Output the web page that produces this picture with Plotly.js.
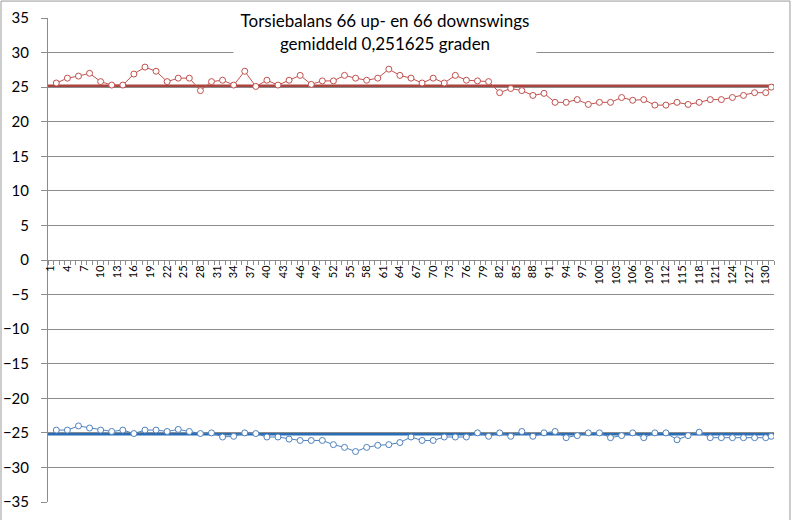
<!DOCTYPE html>
<html>
<head>
<meta charset="utf-8">
<script src="https://cdn.plot.ly/plotly-3.0.1.min.js"></script>
<style>
  html, body { margin: 0; padding: 0; background: white; }
  #chart { width: 792px; height: 520px; }
</style>
</head>
<body>
<div id="chart"></div>
<script>
const swingPos = [2, 4, 6, 8, 10, 12, 14, 16, 18, 20, 22, 24, 26, 28, 30, 32, 34, 36, 38, 40,
  42, 44, 46, 48, 50, 52, 54, 56, 58, 60, 62, 64, 66, 68, 70, 72, 74, 76, 78, 80,
  82, 84, 86, 88, 90, 92, 94, 96, 98, 100, 102, 104, 106, 108, 110, 112, 114, 116, 118, 120,
  122, 124, 126, 128, 130, 131];

const upswings = [25.6, 26.3, 26.6, 27.0, 25.8, 25.3, 25.3, 26.9, 27.9, 27.3,
  25.8, 26.3, 26.3, 24.5, 25.8, 26.0, 25.3, 27.3, 25.1, 26.0,
  25.3, 26.0, 26.7, 25.4, 25.9, 25.9, 26.7, 26.3, 26.0, 26.3,
  27.6, 26.7, 26.3, 25.6, 26.3, 25.6, 26.7, 26.0, 25.9, 25.8,
  24.2, 24.8, 24.5, 23.8, 24.1, 22.8, 22.8, 23.2, 22.5, 22.8,
  22.8, 23.5, 23.1, 23.2, 22.4, 22.4, 22.8, 22.5, 22.8, 23.2,
  23.2, 23.5, 23.8, 24.2, 24.2, 25.0];

const downswings = [-24.6, -24.6, -24.0, -24.3, -24.6, -24.8, -24.6, -25.1, -24.6, -24.6,
  -24.8, -24.5, -24.8, -25.1, -25.0, -25.6, -25.5, -25.0, -25.1, -25.6,
  -25.6, -25.9, -26.1, -26.1, -26.1, -26.7, -27.1, -27.7, -27.1, -26.8,
  -26.7, -26.4, -25.6, -26.1, -26.1, -25.6, -25.6, -25.6, -25.0, -25.5,
  -25.0, -25.5, -24.8, -25.5, -25.0, -24.8, -25.7, -25.4, -25.0, -25.0,
  -25.7, -25.4, -25.0, -25.7, -25.0, -25.0, -26.0, -25.4, -24.9, -25.7,
  -25.7, -25.7, -25.7, -25.7, -25.7, -25.5];

const avgUp = 25.17;
const avgDown = -25.17;

const xTickVals = [1, 4, 7, 10, 13, 16, 19, 22, 25, 28, 31, 34, 37, 40, 43, 46, 49, 52, 55, 58,
  61, 64, 67, 70, 73, 76, 79, 82, 85, 88, 91, 94, 97, 100, 103, 106, 109, 112, 115, 118,
  121, 124, 127, 130];

const titleText = 'Torsiebalans 66 up- en 66 downswings<br>gemiddeld 0,251625 graden';

const gridGrey = '#8c8c8c';

const upTrace = {
  type: 'scatter',
  mode: 'lines+markers',
  x: swingPos,
  y: upswings,
  line: { color: '#c0504d', width: 1 },
  marker: { symbol: 'circle', size: 6, color: 'white', line: { color: '#c0504d', width: 1 } },
  hoverinfo: 'x+y'
};

const downTrace = {
  type: 'scatter',
  mode: 'lines+markers',
  x: swingPos,
  y: downswings,
  line: { color: '#4f81bd', width: 1 },
  marker: { symbol: 'circle', size: 6, color: 'white', line: { color: '#4f81bd', width: 1 } },
  hoverinfo: 'x+y'
};

const layout = {
  width: 792,
  height: 520,
  margin: { l: 48, r: 18, t: 18, b: 18 },
  paper_bgcolor: 'white',
  plot_bgcolor: 'white',
  showlegend: false,
  font: { family: 'Lato, "Liberation Sans", sans-serif', color: 'black' },
  xaxis: {
    range: [0.5, 131.5],
    anchor: 'free',
    position: 0.5,
    showline: true,
    linecolor: gridGrey,
    linewidth: 1,
    showgrid: false,
    zeroline: false,
    tickmode: 'array',
    tickvals: xTickVals,
    ticktext: xTickVals.map(String),
    tickangle: -90,
    ticks: 'outside',
    ticklen: 0,
    tickfont: { size: 11 },
    minor: { tickmode: 'linear', tick0: 0.5, dtick: 1, ticks: 'outside', ticklen: 4, tickcolor: gridGrey, showgrid: false }
  },
  yaxis: {
    range: [-35, 35],
    dtick: 5,
    tick0: 0,
    showline: true,
    linecolor: gridGrey,
    linewidth: 1,
    showgrid: true,
    gridcolor: gridGrey,
    gridwidth: 1,
    zeroline: false,
    ticks: 'outside',
    ticklen: 6,
    tickcolor: gridGrey,
    ticklabelstandoff: 9,
    tickfont: { size: 15 }
  },
  shapes: [
    { type: 'line', xref: 'paper', x0: 0, x1: 1, yref: 'y', y0: avgUp, y1: avgUp,
      line: { color: '#a9443f', width: 3 }, layer: 'between' },
    { type: 'line', xref: 'paper', x0: 0, x1: 1, yref: 'y', y0: avgDown, y1: avgDown,
      line: { color: '#2a6db5', width: 3 }, layer: 'between' },
    { type: 'rect', xref: 'paper', yref: 'paper', x0: -0.0647, x1: 1.022, y0: -0.05, y1: 1.035,
      line: { color: '#9a9a9a', width: 1 }, fillcolor: 'rgba(0,0,0,0)' }
  ],
  annotations: [{
    text: titleText,
    xref: 'paper', yref: 'paper',
    x: 0.464, y: 1.027,
    xanchor: 'center', yanchor: 'top',
    showarrow: false,
    bgcolor: 'white',
    width: 300,
    height: 50,
    align: 'center',
    valign: 'middle',
    font: { size: 17, color: 'black' }
  }]
};

Plotly.newPlot('chart', [upTrace, downTrace], layout, { displayModeBar: false, staticPlot: true });
</script>
</body>
</html>
